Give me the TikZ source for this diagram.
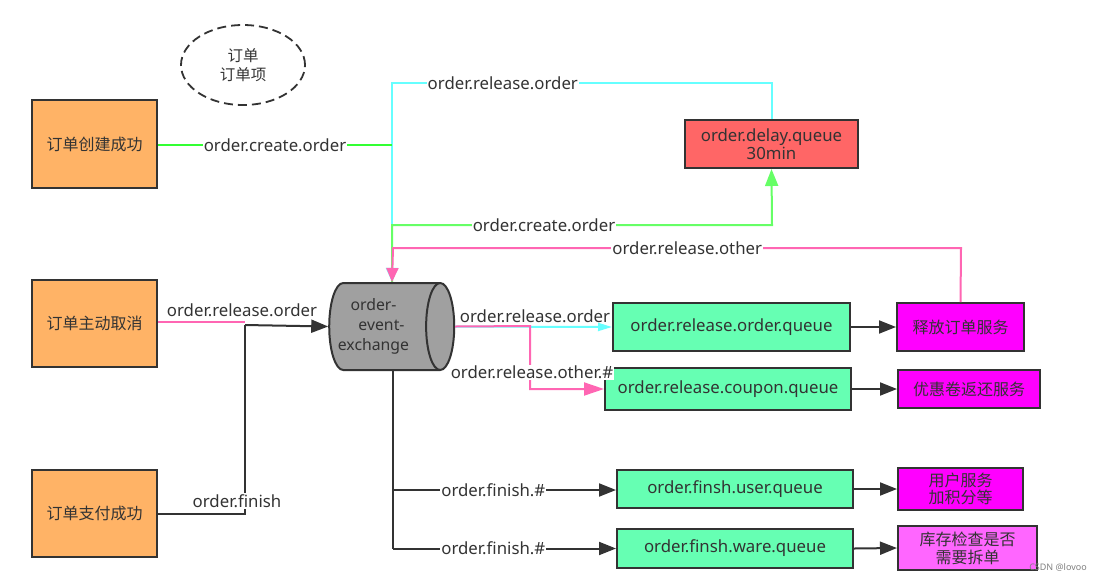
\documentclass[tikz,border=0pt]{standalone}
\usepackage{fontspec}
\setmainfont{Noto Sans}
\newfontfamily\cjk{Noto Sans CJK SC}
\usetikzlibrary{shapes.geometric,arrows.meta}
\definecolor{bd}{HTML}{333333}
\definecolor{txt}{HTML}{333333}
\definecolor{orng}{HTML}{FFB366}
\definecolor{redq}{HTML}{FF6666}
\definecolor{grq}{HTML}{66FFB3}
\definecolor{mag}{HTML}{FF00FF}
\definecolor{lmag}{HTML}{FF66FF}
\definecolor{exg}{HTML}{A0A0A0}
\definecolor{lgreen}{HTML}{33FF33}
\definecolor{lgreen2}{HTML}{66FF66}
\definecolor{lcyan}{HTML}{66FFFF}
\definecolor{lpink}{HTML}{FF3399}
\definecolor{lpink2}{HTML}{FF66B3}
\tikzset{
  box/.style={draw=bd, line width=2pt, text=txt, inner sep=2pt, align=center},
  cn/.style={font=\cjk\fontsize{16}{19}\selectfont},
  ln/.style={font=\fontsize{16.8}{19}\selectfont},
  lbl/.style={text=txt, font=\fontsize{16.8}{19}\selectfont, inner sep=1pt},
  wl/.style={lbl, fill=white},
  conn/.style={line width=2pt, line cap=butt},
  tip/.style={-{Triangle[length=17pt,width=13pt]}},
}
\begin{document}
\begin{tikzpicture}[x=1pt,y=-1pt]
\useasboundingbox (0,0) rectangle (1105,582);
% nodes
\node[ellipse, draw=bd, dashed, dash pattern=on 9pt off 5pt, line width=1.8pt, minimum width=124pt, minimum height=80pt, text=txt, align=center, font=\cjk\fontsize{15.5}{19}\selectfont] (ell) at (243,65) {订单\\订单项};
\node[box, cn, fill=orng, minimum width=125pt, minimum height=88pt] (c1) at (94.5,144) {订单创建成功};
\node[box, cn, fill=orng, minimum width=125pt, minimum height=87pt] (c2) at (94.5,323.5) {订单主动取消};
\node[box, cn, fill=orng, minimum width=125pt, minimum height=87pt] (c3) at (94.5,513.5) {订单支付成功};
\node[box, ln, fill=redq, minimum width=173pt, minimum height=48pt, font=\fontsize{16.8}{18}\selectfont] (dq) at (771.5,144) {order.delay.queue\\30min};
\node[cylinder, draw=bd, line width=2pt, fill=exg, shape aspect=0.45, inner xsep=0pt, minimum width=87pt, minimum height=125pt, text=txt, align=center, font=\fontsize{15.8}{20}\selectfont] (ex) at (381.5,326.5) {order-\hspace*{16pt}\\event-\hspace*{16pt}\\exchange\hspace*{16pt}};
\node[box, ln, fill=grq, minimum width=237pt, minimum height=48pt] (q1) at (731.5,327) {order.release.order.queue};
\node[box, ln, fill=grq, minimum width=246pt, minimum height=42pt] (q2) at (728,389) {order.release.coupon.queue};
\node[box, ln, fill=grq, minimum width=236pt, minimum height=38pt] (q3) at (735,489) {order.finsh.user.queue};
\node[box, ln, fill=grq, minimum width=236pt, minimum height=39pt] (q4) at (735,548.5) {order.finsh.ware.queue};
\node[box, cn, fill=mag, minimum width=127pt, minimum height=48pt] (s1) at (960.5,327) {释放订单服务};
\node[box, cn, fill=mag, minimum width=142pt, minimum height=38pt] (s2) at (969,389) {优惠卷返还服务};
\node[box, cn, fill=mag, minimum width=125pt, minimum height=42pt, font=\cjk\fontsize{16}{17}\selectfont] (s3) at (960.5,489) {用户服务\\加积分等};
\node[box, cn, fill=lmag, minimum width=139pt, minimum height=44pt, font=\cjk\fontsize{16}{18}\selectfont] (s4) at (967.5,548) {库存检查是否\\需要拆单};
\node[text=gray, font=\fontsize{9}{10}\selectfont] (wm) at (1058,567) {CSDN @lovoo};
% coordinates
\coordinate (topc) at (392,83);
\coordinate (jg) at (392,145);
\coordinate (jl) at (245,325);
\coordinate (b1) at (393,490);
\coordinate (b2) at (393,548.5);
\coordinate (pr) at (530,326);
\coordinate (ext) at (ex.north -| jg);
\coordinate (exb) at (ex.south -| b1);
% cyan release loop
\draw[conn, lcyan, -{Triangle[length=14pt,width=12pt]}] (dq.north) -- (dq.north |- topc) -- node[wl, pos=0.708] {order.release.order} (topc) -- (ext);
% green create
\draw[conn, lgreen] (c1.east |- jg) -- node[wl, pos=0.5] {order.create.order} (jg);
\draw[conn, lgreen2, -{Triangle[length=17pt,width=13pt]}] (ext) -- (392,225) -- node[wl, pos=0.40] {order.create.order} (772,225) -- (dq.south);
% pink other loop
\draw[conn, lpink2, -{Triangle[length=14pt,width=12pt]}] (s1.north) -- (961,248) -- node[wl, pos=0.482] {order.release.other} (393,248) -- (ext);
% left side
\draw[conn, lpink2] (c2.east |- 0,322) -- (245,322);
\draw[conn, bd, tip] (jl) -- (ex.west);
\node[lbl] (lro) at (242,310) {order.release.order};
\draw[conn, bd] (c3.east |- 0,514) -- (245,514) -- (jl);
\node[wl] (lof) at (237,501) {order.finish};
% right of exchange
\draw[conn, lcyan, -{Triangle[length=14pt,width=8pt]}] (ex.east) -- (q1.west);
\draw[conn, lpink2, -{Triangle[length=20pt,width=13pt]}] (ex.east) -- (pr) -- (pr |- q2.west) -- (q2.west);
\node[lbl] (lro2) at (535,316) {order.release.order};
\node[wl] (lrt) at (532,372) {order.release.other.\#};
% finish branches
\draw[conn, bd] (exb) -- (b2);
\draw[conn, bd, tip] (b1) -- node[wl, pos=0.45] {order.finish.\#} (b1 -| q3.west);
\draw[conn, bd, tip] (b2) -- node[wl, pos=0.45] {order.finish.\#} (q4.west);
% queue to service
\draw[conn, bd, tip] (q1.east) -- (s1.west);
\draw[conn, bd, tip] (q2.east) -- (s2.west);
\draw[conn, bd, tip] (q3.east) -- (s3.west);
\draw[conn, bd, tip] (q4.east) -- (s4.west);
\end{tikzpicture}
\end{document}
